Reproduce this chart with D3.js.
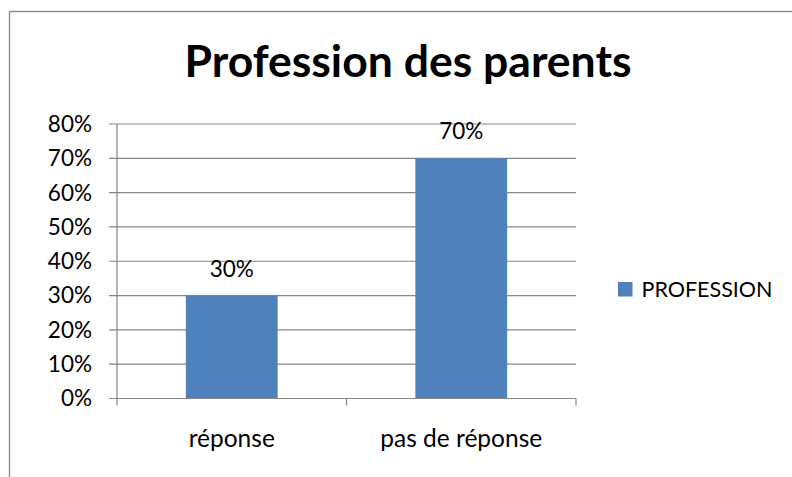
<!DOCTYPE html>
<html lang="fr">
<head>
<meta charset="utf-8">
<title>Profession des parents</title>
<script src="https://cdnjs.cloudflare.com/ajax/libs/d3/7.8.5/d3.min.js"></script>
<style>
  html, body { margin: 0; padding: 0; background: #fff; }
  svg { display: block; font-family: Lato, "Open Sans", sans-serif; }
</style>
</head>
<body>
<div id="chart"></div>
<script>
// data
const categories = ["réponse", "pas de réponse"];
const values = [0.30, 0.70];
const seriesName = "PROFESSION";
const yTicks = [0, 0.1, 0.2, 0.3, 0.4, 0.5, 0.6, 0.7, 0.8];

const W = 792, H = 477;
const plot = {left: 117, right: 576, top: 124, bottom: 398.5};
const gridColor = "#868686";
const barColor = "#4F81BD";
const fs = 22.5;

const svg = d3.select("#chart").append("svg")
  .attr("width", W).attr("height", H);

// outer chart border (runs off the right and bottom edges)
svg.append("rect")
  .attr("x", 9.5).attr("y", 11.5)
  .attr("width", W + 20).attr("height", H + 20)
  .attr("fill", "#fff")
  .attr("stroke", gridColor).attr("stroke-width", 1.3);

// title
svg.append("text")
  .attr("x", 408).attr("y", 77)
  .attr("text-anchor", "middle")
  .attr("font-size", 44.5).attr("font-weight", "bold")
  .attr("fill", "#000")
  .text("Profession des parents");

const x = d3.scaleBand()
  .domain(categories)
  .range([plot.left, plot.right]);

const y = d3.scaleLinear()
  .domain([0, 0.8])
  .range([plot.bottom, plot.top]);

// gridlines
svg.append("g")
  .selectAll("line")
  .data(yTicks)
  .join("line")
  .attr("x1", plot.left - 8).attr("x2", plot.right)
  .attr("y1", d => y(d)).attr("y2", d => y(d))
  .attr("stroke", gridColor).attr("stroke-width", 1.2);

// y axis line
svg.append("line")
  .attr("x1", plot.left).attr("x2", plot.left)
  .attr("y1", plot.top).attr("y2", plot.bottom)
  .attr("stroke", gridColor).attr("stroke-width", 1.2);

// y tick labels
svg.append("g")
  .selectAll("text")
  .data(yTicks)
  .join("text")
  .attr("x", 92).attr("y", d => y(d))
  .attr("dy", "0.35em")
  .attr("text-anchor", "end")
  .attr("font-size", fs)
  .attr("fill", "#000")
  .text(d => d3.format(".0%")(d));

// bars
const barW = x.bandwidth() * 0.4;
svg.append("g")
  .selectAll("rect")
  .data(values)
  .join("rect")
  .attr("x", (d, i) => x(categories[i]) + (x.bandwidth() - barW) / 2)
  .attr("width", barW)
  .attr("y", d => y(d))
  .attr("height", d => y(0) - y(d))
  .attr("fill", barColor);

// x axis line and ticks
svg.append("line")
  .attr("x1", plot.left).attr("x2", plot.right)
  .attr("y1", plot.bottom).attr("y2", plot.bottom)
  .attr("stroke", gridColor).attr("stroke-width", 1.2);

const xTickPos = categories.map(c => x(c)).concat([x(categories[categories.length - 1]) + x.bandwidth()]);
svg.append("g")
  .selectAll("line")
  .data(xTickPos)
  .join("line")
  .attr("x1", d => d).attr("x2", d => d)
  .attr("y1", plot.bottom).attr("y2", plot.bottom + 7)
  .attr("stroke", gridColor).attr("stroke-width", 1.2);

// category labels
svg.append("g")
  .selectAll("text")
  .data(categories)
  .join("text")
  .attr("x", d => x(d) + x.bandwidth() / 2)
  .attr("y", 447)
  .attr("text-anchor", "middle")
  .attr("font-size", 24.5)
  .attr("fill", "#000")
  .text(d => d);

// value labels
svg.append("g")
  .selectAll("text")
  .data(values)
  .join("text")
  .attr("x", (d, i) => x(categories[i]) + x.bandwidth() / 2)
  .attr("y", d => y(d) - 19)
  .attr("text-anchor", "middle")
  .attr("font-size", fs)
  .attr("fill", "#000")
  .text(d => d3.format(".0%")(d));

// legend
const legend = svg.append("g").attr("transform", "translate(618,282)");
legend.append("rect")
  .attr("width", 14.5).attr("height", 14.5)
  .attr("fill", barColor);
legend.append("text")
  .attr("x", 23.5).attr("y", 14.5)
  .attr("font-size", 21.5)
  .attr("fill", "#000")
  .text(seriesName);
</script>
</body>
</html>
